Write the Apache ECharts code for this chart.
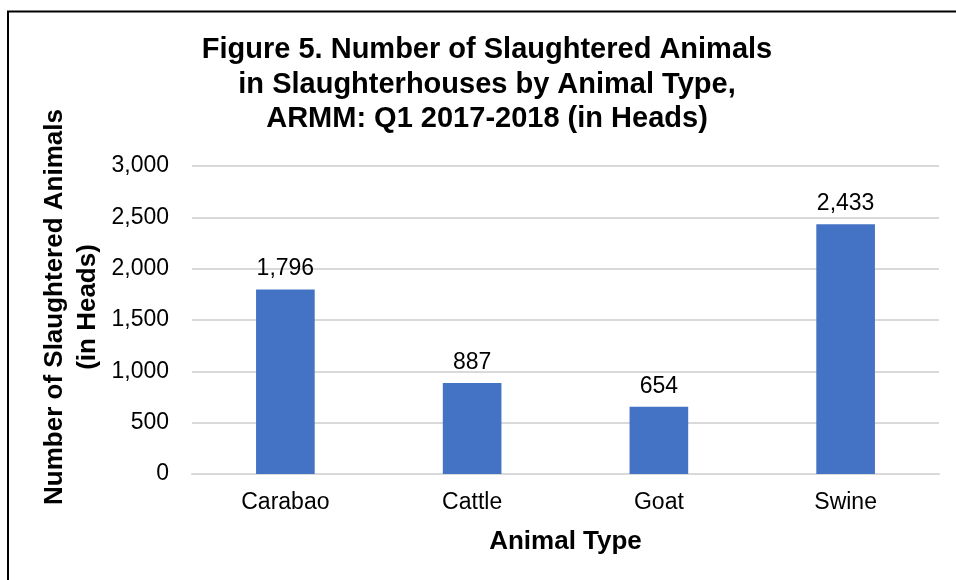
<!DOCTYPE html>
<html>
<head>
<meta charset="utf-8">
<script src="https://cdn.jsdelivr.net/npm/echarts@6/dist/echarts.min.js"></script>
<style>
html,body{margin:0;padding:0;background:#fff;}
#chart{width:956px;height:580px;}
</style>
</head>
<body>
<div id="chart"></div>
<script>
var categories = ['Carabao', 'Cattle', 'Goat', 'Swine'];
var values = [1796, 887, 654, 2433];
var titleLines = ['Figure 5. Number of Slaughtered Animals', 'in Slaughterhouses by Animal Type,', 'ARMM: Q1 2017-2018 (in Heads)'];
var yAxisTitle = ['Number of Slaughtered Animals', '(in Heads)'];
var xAxisTitle = 'Animal Type';

var FONT = '"Liberation Sans", Arial, sans-serif';
function fmt(v){ return String(v).replace(/\B(?=(\d{3})+(?!\d))/g, ','); }

var chart = echarts.init(document.getElementById('chart'), null, {renderer:'canvas'});
chart.setOption({
  backgroundColor: '#ffffff',
  animation: false,
  textStyle: { fontFamily: FONT },
  title: {
    text: titleLines.join('\n'),
    left: 487, top: 33, padding: 0,
    textAlign: 'center',
    textStyle: { fontFamily: FONT, fontSize: 29, fontWeight: 'bold', color: '#000', lineHeight: 34.5 }
  },
  graphic: [
    { type: 'rect', shape: { x: 8, y: 11.5, width: 1200, height: 1200 }, style: { fill: 'none', stroke: '#000', lineWidth: 2 }, silent: true },
    { type: 'text', x: 71, y: 307, rotation: Math.PI / 2,
      style: { text: yAxisTitle.join('\n'), font: 'bold 26px ' + FONT, fill: '#000', textAlign: 'center', textVerticalAlign: 'middle', lineHeight: 33 } }
  ],
  grid: { left: 192, right: 17, top: 166, bottom: 106 },
  xAxis: {
    type: 'category',
    data: categories,
    name: xAxisTitle,
    nameLocation: 'middle',
    nameGap: 55,
    nameTextStyle: { fontFamily: FONT, fontSize: 26, fontWeight: 'bold', color: '#000' },
    axisLine: { show: true, lineStyle: { color: '#d9d9d9', width: 2 } },
    axisTick: { show: false },
    axisLabel: { fontFamily: FONT, fontSize: 23, color: '#000', margin: 17 }
  },
  yAxis: {
    type: 'value',
    min: 0, max: 3000, interval: 500,
    axisLine: { show: false },
    axisTick: { show: false },
    axisLabel: { fontFamily: FONT, fontSize: 23, color: '#000', margin: 23, formatter: fmt },
    splitLine: { lineStyle: { color: '#d9d9d9', width: 2 } }
  },
  series: [{
    type: 'bar',
    data: values,
    barWidth: '31.4%',
    itemStyle: { color: '#4472C4' },
    label: { show: true, position: 'top', distance: 9, fontFamily: FONT, fontSize: 23, color: '#000', formatter: function(p){ return fmt(p.value); } }
  }]
});
</script>
</body>
</html>
